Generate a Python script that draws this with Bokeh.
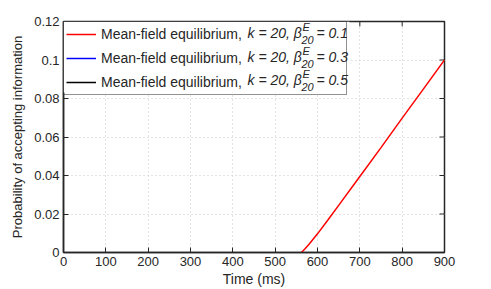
import math
from bokeh.plotting import figure
from bokeh.models import Legend, LegendItem, Label, FixedTicker, Range1d, BoxAnnotation
from bokeh.embed import file_html
from bokeh.resources import INLINE

# ---- data ----
time_red = [562, 570, 580, 590, 600, 625, 650, 700, 750, 800, 850, 900]
prob_red = [0.0, 0.0018, 0.0043, 0.0070, 0.0097, 0.0170, 0.0245, 0.0395, 0.0545, 0.0698, 0.0849, 0.1000]
# the blue and black series are not visible anywhere in the picture
time_blue = [math.nan]
prob_blue = [math.nan]
time_black = [math.nan]
prob_black = [math.nan]

x_ticks = [0, 100, 200, 300, 400, 500, 600, 700, 800, 900]
y_ticks = [0, 0.02, 0.04, 0.06, 0.08, 0.1, 0.12]
y_tick_labels = ["0", "0.02", "0.04", "0.06", "0.08", "0.1", "0.12"]

legend_prefix = "Mean-field equilibrium,"
legend_k = "k = 20, β"
legend_sup = "E"
legend_sub = "20"
beta_values = ["= 0.1", "= 0.3", "= 0.5"]
series_colors = ["#ff0000", "#0000ff", "#000000"]

x_label = "Time (ms)"
y_label = "Probability of accepting information"

FONT = "Liberation Sans"
TXT = "#262626"
X0, X1 = 0, 900
Y0, Y1 = 0, 0.12
FW, FH = 381, 234          # frame size in px

p = figure(width=491, height=289, output_backend="svg", toolbar_location=None,
           x_range=Range1d(X0, X1), y_range=Range1d(Y0, Y1),
           min_border_left=63, min_border_right=47, min_border_top=21, min_border_bottom=34)
p.outline_line_color = TXT
p.outline_line_width = 1.5
p.background_fill_color = "white"
p.border_fill_color = "white"

p.grid.grid_line_color = "#c8c8c8"
p.grid.grid_line_dash = "1 3"
p.grid.grid_line_width = 1
p.xgrid.ticker = FixedTicker(ticks=x_ticks)
p.ygrid.ticker = FixedTicker(ticks=y_ticks)

def px_to_y(py):
    return Y1 - py * (Y1 - Y0) / FH

def px_to_x(px):
    return X0 + px * (X1 - X0) / FW

# tick marks on the top and right edges of the box
tick_px = 5
dx = tick_px * (X1 - X0) / FW
dy = tick_px * (Y1 - Y0) / FH
p.segment(x0=x_ticks, y0=[Y1] * len(x_ticks), x1=x_ticks, y1=[Y1 - dy] * len(x_ticks),
          line_color=TXT, line_width=1)
p.segment(x0=[X1] * len(y_ticks), y0=y_ticks, x1=[X1 - dx] * len(y_ticks), y1=y_ticks,
          line_color=TXT, line_width=1)

r_red = p.line(time_red, prob_red, line_color=series_colors[0], line_width=1.5)
r_blue = p.line(time_blue, prob_blue, line_color=series_colors[1], line_width=1.5)
r_black = p.line(time_black, prob_black, line_color=series_colors[2], line_width=1.5)

p.xaxis[0].axis_label = x_label
p.yaxis[0].axis_label = y_label
p.xaxis[0].ticker = FixedTicker(ticks=x_ticks)
p.yaxis[0].ticker = FixedTicker(ticks=y_ticks)
p.yaxis[0].major_label_overrides = {t: l for t, l in zip(y_ticks, y_tick_labels)}
for ax in p.axis:
    ax.axis_line_color = TXT
    ax.axis_line_width = 1.5
    ax.major_tick_line_color = TXT
    ax.major_tick_line_width = 1
    ax.major_tick_in = tick_px
    ax.major_tick_out = 0
    ax.minor_tick_line_color = None
    ax.major_label_text_font = FONT
    ax.major_label_text_font_size = "13px"
    ax.major_label_text_color = TXT
    ax.major_label_standoff = 4
    ax.axis_label_text_font = FONT
    ax.axis_label_text_font_style = "normal"
    ax.axis_label_text_color = TXT
p.xaxis[0].axis_label_standoff = 2
p.xaxis[0].axis_label_text_font_size = "14px"
p.yaxis[0].axis_label_text_font_size = "13px"
p.yaxis[0].axis_label_standoff = 6

# white background of the legend box (the legend itself is transparent so
# that the math labels drawn below stay visible)
LEG_W, LEG_H = 286, 72
p.add_layout(BoxAnnotation(left=X0, right=px_to_x(LEG_W), top=Y1, bottom=px_to_y(LEG_H),
                           fill_color="white", fill_alpha=1, line_color=None))

legend = Legend(items=[LegendItem(label=legend_prefix, renderers=[r]) for r in (r_red, r_blue, r_black)],
                location="top_left", margin=0, padding=2, spacing=4,
                glyph_width=30, glyph_height=20, label_height=20, label_width=243,
                label_standoff=5, label_text_font=FONT, label_text_font_size="14px",
                label_text_color=TXT, border_line_color=TXT, border_line_width=1.5,
                background_fill_alpha=0)
p.add_layout(legend)

# math part of the legend texts (row centres 12, 36, 59 px below the frame top)
row_px = [12, 36, 59]
for rp, val in zip(row_px, beta_values):
    common = dict(text_font=FONT, text_font_style="italic", text_color=TXT,
                  text_baseline="middle", level="overlay")
    p.add_layout(Label(x=px_to_x(184), y=px_to_y(rp), text=legend_k, text_font_size="14px", **common))
    p.add_layout(Label(x=px_to_x(239), y=px_to_y(rp - 6), text=legend_sup, text_font_size="11px", **common))
    p.add_layout(Label(x=px_to_x(238), y=px_to_y(rp + 7), text=legend_sub, text_font_size="11px", **common))
    p.add_layout(Label(x=px_to_x(253), y=px_to_y(rp), text=val, text_font_size="14px", **common))

open("out.html", "w").write(file_html(p, INLINE))
